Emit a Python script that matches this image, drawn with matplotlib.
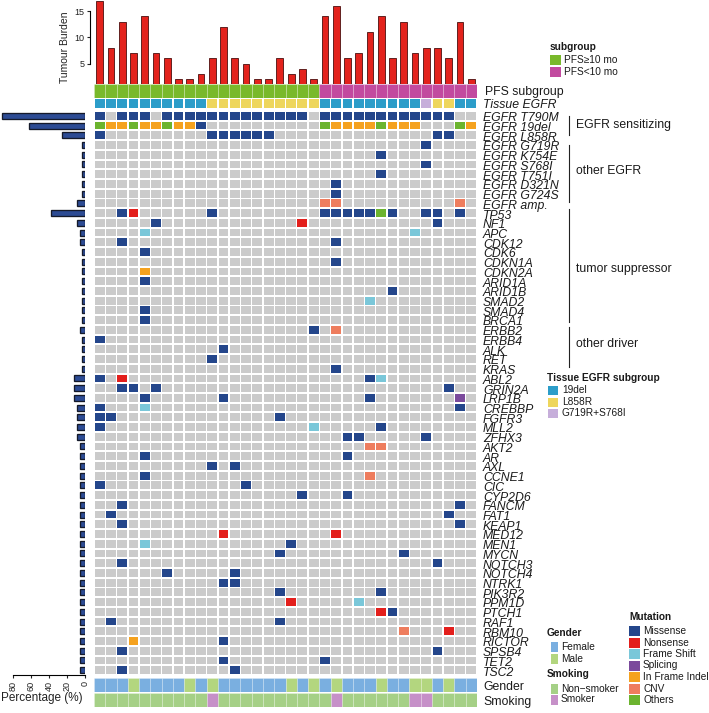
import matplotlib
matplotlib.use('Agg')
import matplotlib.pyplot as plt
from matplotlib.patches import Rectangle
from matplotlib.collections import PatchCollection
from matplotlib.lines import Line2D

W, H = 709, 713
plt.rcParams['font.family'] = ['Liberation Sans', 'DejaVu Sans']

# ---------------- data ----------------
genes = ['EGFR T790M', 'EGFR 19del', 'EGFR L858R', 'EGFR G719R', 'EGFR K754E', 'EGFR S768I',
         'EGFR T751I', 'EGFR D321N', 'EGFR G724S', 'EGFR amp.', 'TP53', 'NF1', 'APC', 'CDK12',
         'CDK6', 'CDKN1A', 'CDKN2A', 'ARID1A', 'ARID1B', 'SMAD2', 'SMAD4', 'BRCA1', 'ERBB2',
         'ERBB4', 'ALK', 'RET', 'KRAS', 'ABL2', 'GRIN2A', 'LRP1B', 'CREBBP', 'FGFR3', 'MLL2',
         'ZFHX3', 'AKT2', 'AR', 'AXL', 'CCNE1', 'CIC', 'CYP2D6', 'FANCM', 'FAT1', 'KEAP1',
         'MED12', 'MEN1', 'MYCN', 'NOTCH3', 'NOTCH4', 'NTRK1', 'PIK3R2', 'PPM1D', 'PTCH1',
         'RAF1', 'RBM10', 'RICTOR', 'SPSB4', 'TET2', 'TSC2']

# mutation codes per gene, one char per patient (34), written in groups of 10/10/10/4
# . none, M missense, N nonsense, F frame shift, S splicing, I in-frame indel, C CNV, O others
mutation_rows = [
    "M.MMM.MMMM MMMMMMMMM. MMMMMMMMMM MM..",  # EGFR T790M
    "OIIOIIOIIM .......... OIIIIOIII. ..OI",  # EGFR 19del
    "M......... MMMMMM.... .......... MM..",  # EGFR L858R
    ".......... .......... .........M ....",  # G719R
    ".......... .......... .....M.... ....",  # K754E
    ".......... .......... .........M ....",  # S768I
    ".......... .......... .....M.... ....",  # T751I
    ".......... .......... .M........ ....",  # D321N
    ".......... .......... .M........ ....",  # G724S
    ".......... .......... CC........ ..C.",  # amp
    "..MN...... M......... MMMMMOM..M M.M.",  # TP53
    ".....M.... ........N. .......... M...",  # NF1
    "....F..... .......... ........F. ....",  # APC
    "..M....... .......... .M........ ....",  # CDK12
    "....M..... .......... .......... ....",  # CDK6
    ".......... .......... .M........ ....",  # CDKN1A
    "....I..... .......... .......... ....",  # CDKN2A
    "....M..... .......... .......... ....",  # ARID1A
    ".......... .......... ......M... ....",  # ARID1B
    ".......... .......... ....F..... ....",  # SMAD2
    "....M..... .......... .......... ....",  # SMAD4
    "....M..... .......... .......... ....",  # BRCA1
    ".......... .........M .C........ ....",  # ERBB2
    "M......... .......... .......... ....",  # ERBB4
    ".......... .M........ .......... ....",  # ALK
    ".......... M......... .......... ....",  # RET
    ".......... .......... .M........ ....",  # KRAS
    "M.N....... .......... ....MF.... ....",  # ABL2
    "..MM.M.... .......... .......... .M..",  # GRIN2A
    "....M..... .M........ ....M..... ..S.",  # LRP1B
    "M...F..... .......... .......... ..M.",  # CREBBP
    "MM........ ......M... .......... ....",  # FGFR3
    "M......... .........F .....M.... ....",  # MLL2
    ".......... .......... ..MM.....M ....",  # ZFHX3
    ".......... .......... ....CC.... ....",  # AKT2
    "....M..... .......... ..M....... ....",  # AR
    ".......... M.M....... .......... ....",  # AXL
    "....M..... .......... ....C..... ....",  # CCNE1
    "M......... ...M...... .......... ....",  # CIC
    ".......... ........M. ..M....... ....",  # CYP2D6
    "..M....... .......... .......... ..M.",  # FANCM
    ".M........ .......... .......... .M..",  # FAT1
    "..M....... .......... .......... ..M.",  # KEAP1
    ".......... .N........ .N........ ....",  # MED12
    "....F..... .......M.. .......... ....",  # MEN1
    ".......... ......M... .......M.. ....",  # MYCN
    "..M....... .......... .......... M...",  # NOTCH3
    "......M... ..M....... .......... ....",  # NOTCH4
    ".......... .MM....... .......... ....",  # NTRK1
    ".......... ......M... .....M.... ....",  # PIK3R2
    ".......... .......N.. ...F...... ....",  # PPM1D
    ".......... .......... .....NM... ....",  # PTCH1
    ".M........ ......M... .......... ....",  # RAF1
    ".......... .......... .......C.. .N..",  # RBM10
    "...I...... .M........ .......... ....",  # RICTOR
    "..M....... .......... .......... M...",  # SPSB4
    ".......... .M........ M......... ....",  # TET2
    "..M....... ..M....... .......... ....",  # TSC2
]

# alteration frequency (%)
freq_pct = [92, 62, 26, 3, 3, 3, 3, 3, 3, 9, 38, 9, 6, 6, 3, 3, 3, 3, 3, 3, 3, 3, 6,
            3, 3, 3, 3, 12, 12, 12, 9, 9, 9, 9, 6, 6, 6, 6, 6, 6, 6, 6, 6, 6, 6, 6, 6,
            6, 6, 6, 6, 6, 6, 6, 6, 6, 6, 6]

tumour_burden = [17, 8, 13, 7, 14, 7, 6, 2, 2, 3, 6, 12, 6, 5, 2, 2, 6, 3, 4, 2,
                 14, 16, 6, 7, 11, 14, 6, 13, 7, 8, 8, 6, 13, 2]

pfs_group = "AAAAAAAAAA AAAAAAAAAA BBBBBBBBBB BBBB"      # A: PFS>=10 mo, B: PFS<10 mo
tissue_egfr = "DDDDDDDDDD LLLLLLLLLL DDDDDDDDDG LLDD"    # D 19del, L L858R, G G719R+S768I
gender = "FFFMFFFFMF MFFFFFFMFM FMFFFMFFMM FMFF"         # F female, M male
smoking = "NNNNNNNNNN SNNNNNNNNN NSNNNNNNSS NNNN"        # N non-smoker, S smoker

mut_colors = {'M': '#24468B', 'N': '#E31F1C', 'F': '#7AC7D9', 'S': '#7B4A9C',
              'I': '#F5A21F', 'C': '#EE7D5E', 'O': '#6CB42F'}
mut_labels = [('M', 'Missense'), ('N', 'Nonsense'), ('F', 'Frame Shift'), ('S', 'Splicing'),
              ('I', 'In Frame Indel'), ('C', 'CNV'), ('O', 'Others')]
pfs_colors = {'A': '#79B92B', 'B': '#C24A9F'}
tissue_colors = {'D': '#2C9DC9', 'L': '#EED65C', 'G': '#C6AEDA'}
gender_colors = {'F': '#7AAFE0', 'M': '#B3D67F'}
smoking_colors = {'N': '#A5D086', 'S': '#C690C8'}
GREY = '#CBCBCB'

groups = [("EGFR sensitizing", 116, 135, 125), ("other EGFR", 145, 202, 171),
          ("tumor suppressor", 209, 322, 269), ("other driver", 327, 367, 344)]


def clean(s):
    return s.replace(' ', '')


mutation_rows = [clean(r) for r in mutation_rows]
pfs_group, tissue_egfr, gender, smoking = map(clean, (pfs_group, tissue_egfr, gender, smoking))
ncol = len(tumour_burden)
nrow = len(genes)

# ---------------- figure ----------------
fig = plt.figure(figsize=(W / 100, H / 100), dpi=100)


def add_ax(x0, y0, x1, y1):
    return fig.add_axes([x0 / W, 1 - y1 / H, (x1 - x0) / W, (y1 - y0) / H])


def fx(x):
    return x / W


def fy(y):
    return 1 - y / H


GX0, GX1 = 94, 477
GY0, GY1 = 111, 675

# top bars
ax_top = add_ax(GX0, 0, GX1, 83.5)
ax_top.bar([i + 0.5 for i in range(ncol)], tumour_burden, width=0.6, color='#E3221C',
           edgecolor='#4A0E0E', linewidth=0.6)
ax_top.set_xlim(0, ncol)
ax_top.set_ylim(1.18, 17.15)
for s in ['top', 'right', 'bottom']:
    ax_top.spines[s].set_visible(False)
ax_top.spines['left'].set_position(('outward', 3))
ax_top.spines['left'].set_bounds(5, 15)
ax_top.spines['left'].set_linewidth(0.8)
ax_top.set_yticks([5, 10, 15])
ax_top.tick_params(axis='y', labelsize=6.5, length=2.5, width=0.8, pad=1.5, colors='#222222')
ax_top.set_xticks([])
ax_top.patch.set_alpha(0)
fig.text(fx(65), fy(47), 'Tumour Burden', rotation=90, ha='center', va='center', fontsize=7.5,
         color='#222222')


def annot_row(y0, y1, codes, cmap, gapw=0.0, sep=False):
    ax = add_ax(GX0, y0, GX1, y1)
    ax.set_xlim(0, ncol)
    ax.set_ylim(0, 1)
    ax.axis('off')
    patches = []
    cols = []
    for i, c in enumerate(codes):
        patches.append(Rectangle((i + gapw / 2, 0), 1 - gapw, 1))
        cols.append(cmap[c])
    pc = PatchCollection(patches, facecolors=cols,
                         edgecolors=(1, 1, 1, 0.25) if sep else 'none',
                         linewidths=0.6 if sep else 0)
    ax.add_collection(pc)
    return ax


annot_row(84, 97.5, pfs_group, pfs_colors, sep=True)
annot_row(99.3, 107.6, tissue_egfr, tissue_colors, gapw=0.13)
annot_row(678.3, 692.3, gender, gender_colors, sep=True)
annot_row(692.5, 706.7, smoking, smoking_colors, sep=True)

# main grid
ax = add_ax(GX0, GY0, GX1, GY1)
ax.set_xlim(0, ncol)
ax.set_ylim(nrow, 0)
ax.axis('off')
cw, ch = 0.87, 0.80
patches, cols = [], []
for r, row in enumerate(mutation_rows):
    for c, code in enumerate(row):
        patches.append(Rectangle((c + (1 - cw) / 2, r + (1 - ch) / 2), cw, ch))
        cols.append(mut_colors.get(code, GREY))
ax.add_collection(PatchCollection(patches, facecolors=cols, edgecolors='none'))

# left frequency bars
axl = add_ax(0, GY0, 85, GY1)
axl.barh([r + 0.5 for r in range(nrow)], freq_pct, height=0.62, color='#2C4B94',
         edgecolor='#151A2A', linewidth=0.95)
axl.set_xlim(94.44, 0)
axl.set_ylim(nrow, 0)
for s in ['top', 'right', 'left']:
    axl.spines[s].set_visible(False)
axl.spines['bottom'].set_bounds(0, 80)
axl.spines['bottom'].set_linewidth(0.8)
axl.set_xticks([80, 60, 40, 20, 0])
axl.set_xticklabels(['80', '60', '40', '20', '0'], rotation=90)
axl.tick_params(axis='x', labelsize=6.5, length=2.5, width=0.8, pad=1.5, colors='#222222')
axl.set_yticks([])
axl.patch.set_alpha(0)
fig.text(fx(42), fy(698), 'Percentage (%)', ha='center', va='center', fontsize=8.5,
         color='#222222')

# row labels
LX = 483
for r, g in enumerate(genes):
    yb = GY0 + (GY1 - GY0) / nrow * (r + 0.5) + 5.4
    fig.text(fx(LX), fy(yb), g, ha='left', va='baseline', fontsize=8.8, style='italic',
             color='#1a1a1a')
fig.text(fx(485), fy(90.8 + 4.5), 'PFS subgroup', ha='left', va='baseline', fontsize=8.8,
         color='#1a1a1a')
fig.text(fx(LX), fy(103.5 + 4.5), 'Tissue EGFR', ha='left', va='baseline', fontsize=8.8,
         style='italic', color='#1a1a1a')
fig.text(fx(LX), fy(686 + 4.5), 'Gender', ha='left', va='baseline', fontsize=8.8,
         color='#1a1a1a')
fig.text(fx(LX), fy(700 + 4.5), 'Smoking', ha='left', va='baseline', fontsize=8.8,
         color='#1a1a1a')

# group brackets
for name, y0, y1, yt in groups:
    fig.add_artist(Line2D([fx(569.3), fx(569.3)], [fy(y0), fy(y1)], transform=fig.transFigure,
                          color='#222222', linewidth=0.8))
    fig.text(fx(576), fy(yt), name, ha='left', va='center', fontsize=8.8, color='#1a1a1a')


# legends
def legend_block(x, ytitle, title, items, bx, bw, bh, tx, fs=7.3):
    fig.text(fx(x), fy(ytitle), title, ha='left', va='center', fontsize=fs, fontweight='bold',
             color='#1a1a1a')
    for yc, col, lab in items:
        fig.add_artist(Rectangle((fx(bx), fy(yc + bh / 2)), bw / W, bh / H,
                                 transform=fig.transFigure, facecolor=col, edgecolor='none'))
        fig.text(fx(tx), fy(yc), lab, ha='left', va='center', fontsize=fs, color='#1a1a1a')


legend_block(550, 47, 'subgroup',
             [(60, pfs_colors['A'], 'PFS≥10 mo'), (72, pfs_colors['B'], 'PFS<10 mo')],
             550, 11, 10, 564)
legend_block(547, 378, 'Tissue EGFR subgroup',
             [(390, tissue_colors['D'], '19del'), (402, tissue_colors['L'], 'L858R'),
              (413, tissue_colors['G'], 'G719R+S768I')],
             548, 10, 9, 562)
legend_block(547, 633, 'Gender',
             [(647, gender_colors['F'], 'Female'), (658.5, gender_colors['M'], 'Male')],
             551, 7, 10, 561)
legend_block(547, 674, 'Smoking',
             [(688.5, smoking_colors['N'], 'Non−smoker'), (699.5, smoking_colors['S'], 'Smoker')],
             551, 7, 10, 561)
mut_y = [631, 642.5, 654, 665.5, 677, 688.5, 700]
legend_block(629, 617, 'Mutation',
             [(yc, mut_colors[k], lab) for yc, (k, lab) in zip(mut_y, mut_labels)],
             629, 11, 10, 643)

fig.savefig('out.png', dpi=100, facecolor='white')
